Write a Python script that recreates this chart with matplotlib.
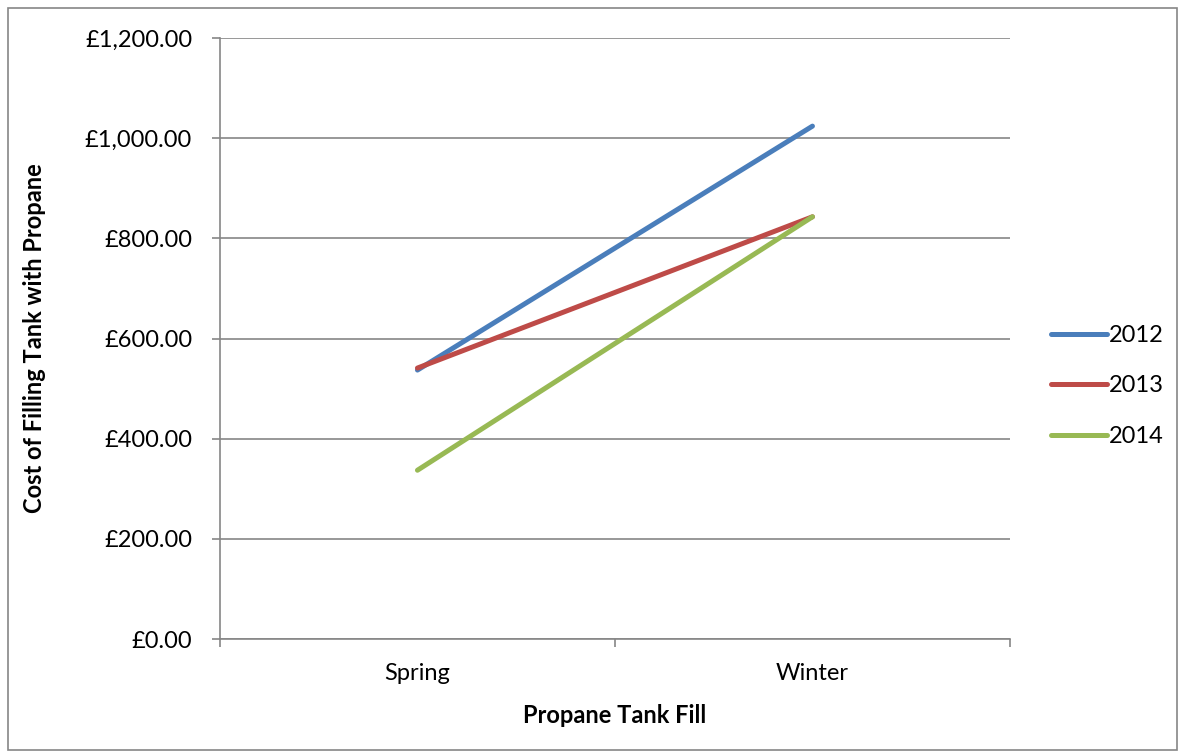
import numpy as np
import matplotlib.pyplot as plt
from matplotlib.patches import Rectangle
from matplotlib.ticker import FuncFormatter

plt.rcParams['font.family'] = ['Lato', 'DejaVu Sans']

# data
seasons = ['Spring', 'Winter']
years = ['2012', '2013', '2014']
cost2012 = [537, 1024]
cost2013 = [541, 843]
cost2014 = [337, 843]
colors = ['#4A7EBB', '#BE4B48', '#98B954']

fig = plt.figure(figsize=(11.8, 7.55), dpi=100)
ax = fig.add_axes([0.1864, 0.1536, 0.6695, 0.7961])

# outer chart border
fig.patches.append(Rectangle((8/1180, 5/755), 1169/1180, 742/755, transform=fig.transFigure,
                             fill=False, edgecolor='#868686', linewidth=1.2))

x = np.arange(len(seasons)) + 0.5
for vals, yr, c in zip([cost2012, cost2013, cost2014], years, colors):
    ax.plot(x, vals, color=c, linewidth=3.6, solid_capstyle='round', label=yr)

ax.set_xlim(0, 2)
ax.set_ylim(0, 1200)
ax.set_yticks(np.arange(0, 1201, 200))
ax.yaxis.set_major_formatter(FuncFormatter(lambda v, p: '£{:,.2f}'.format(v)))
ax.grid(axis='y', color='#868686', linewidth=1.2)
ax.set_axisbelow(True)

ax.set_xticks([0, 1, 2])
ax.set_xticklabels([])
ax.set_xticks(x, minor=True)
ax.set_xticklabels(seasons, minor=True)
ax.tick_params(axis='x', which='minor', length=0, pad=17, labelsize=17)
ax.tick_params(axis='x', which='major', length=6, width=1.2, color='#868686')
ax.tick_params(axis='y', length=6, width=1.2, color='#868686', labelsize=17, pad=14)

for s in ['top', 'right']:
    ax.spines[s].set_visible(False)
for s in ['left', 'bottom']:
    ax.spines[s].set_color('#868686')
    ax.spines[s].set_linewidth(1.2)

ax.set_xlabel('Propane Tank Fill', fontsize=17, fontweight='bold', labelpad=15)
ax.set_ylabel('Cost of Filling Tank with Propane', fontsize=17, fontweight='bold', labelpad=28)

fig.legend(loc='center left', bbox_to_anchor=(1030/1180, 1 - 386/755), frameon=False,
           fontsize=17, handlelength=2.35, handletextpad=0.1, labelspacing=1.25)

fig.savefig('out.png', dpi=100)
